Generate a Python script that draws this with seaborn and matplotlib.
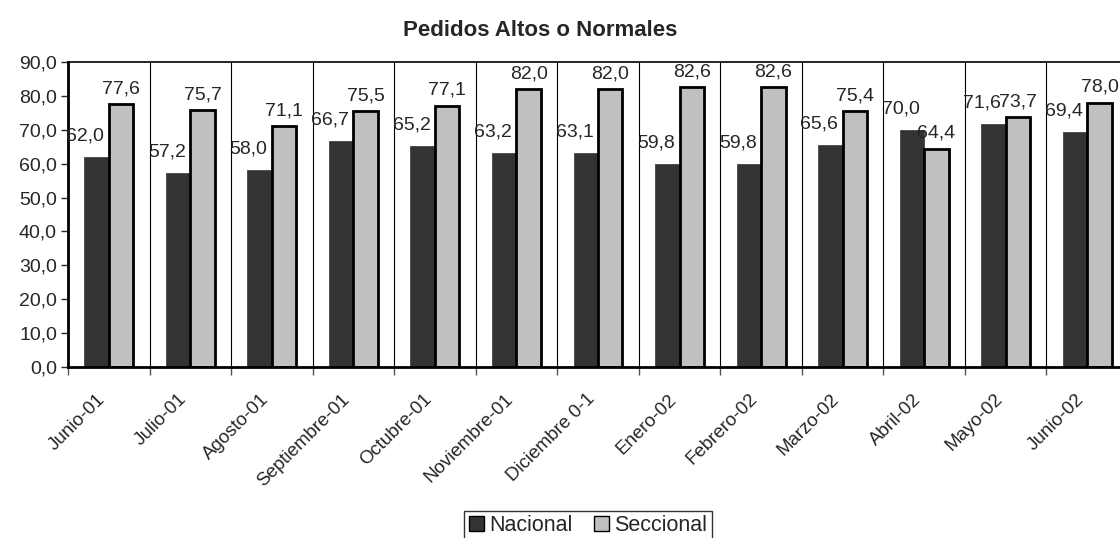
import pandas as pd
import matplotlib.pyplot as plt
import matplotlib.ticker as mticker
import matplotlib.transforms as mtrans
import seaborn as sns

# datos
meses = ['Junio-01', 'Julio-01', 'Agosto-01', 'Septiembre-01', 'Octubre-01', 'Noviembre-01',
         'Diciembre 0-1', 'Enero-02', 'Febrero-02', 'Marzo-02', 'Abril-02', 'Mayo-02', 'Junio-02']
nacional = [62.0, 57.2, 58.0, 66.7, 65.2, 63.2, 63.1, 59.8, 59.8, 65.6, 70.0, 71.6, 69.4]
seccional = [77.6, 75.7, 71.1, 75.5, 77.1, 82.0, 82.0, 82.6, 82.6, 75.4, 64.4, 73.7, 78.0]

df = pd.DataFrame({
    'mes': meses * 2,
    'valor': nacional + seccional,
    'serie': ['Nacional'] * len(meses) + ['Seccional'] * len(meses),
})

sns.set_style('white')
plt.rcParams['font.family'] = ['Liberation Sans', 'DejaVu Sans']

fig = plt.figure(figsize=(11.2, 5.38), dpi=100)
ax = fig.add_axes([68 / 1120, 1 - 367 / 538, 1060 / 1120, 305 / 538])

sns.barplot(data=df, x='mes', y='valor', hue='serie', order=meses,
            palette={'Nacional': '#333333', 'Seccional': '#c0c0c0'},
            width=0.6, ax=ax, legend=True)

# bordes de barras
for cont, lab in zip(ax.containers, ['Nacional', 'Seccional']):
    for p in cont:
        if lab == 'Seccional':
            p.set_edgecolor('black')
            p.set_linewidth(2)
        else:
            p.set_edgecolor('#333333')
            p.set_linewidth(0.5)

# etiquetas de valores
for cont, vals, off in zip(ax.containers, [nacional, seccional], [(-8, 9), (0, 5)]):
    for p, v in zip(cont, vals):
        ax.annotate(f'{v:.1f}'.replace('.', ','),
                    (p.get_x() + p.get_width() / 2, p.get_height()),
                    xytext=off, textcoords='offset points',
                    ha='center', va='bottom', fontsize=14)

ax.set_ylim(0, 90)
ax.set_xlim(-0.5, len(meses) - 0.5)
ax.yaxis.set_major_locator(mticker.MultipleLocator(10))
ax.yaxis.set_major_formatter(mticker.FuncFormatter(lambda y, _: f'{y:.1f}'.replace('.', ',')))
ax.tick_params(axis='y', labelsize=14, left=True, length=5, width=1, direction='out', pad=3)

# lineas verticales entre categorias
for k in range(1, len(meses)):
    ax.axvline(k - 0.5, color='black', lw=0.8, zorder=0)
ax.set_xticks([k - 0.5 for k in range(len(meses) + 1)], minor=True)
ax.tick_params(axis='x', which='minor', bottom=True, length=6, width=1, color='#555555')
ax.tick_params(axis='x', which='major', bottom=False, length=0, labelsize=13.5, pad=17)
ax.set_xticks(range(len(meses)))
ax.set_xticklabels(meses, rotation=45, ha='right', rotation_mode='anchor')
shift = mtrans.ScaledTranslation(-12 / 100, 0, fig.dpi_scale_trans)
for lbl in ax.get_xticklabels():
    lbl.set_transform(lbl.get_transform() + shift)

for s in ['left', 'bottom']:
    ax.spines[s].set_linewidth(2)
ax.spines['top'].set_linewidth(1.2)
ax.spines['right'].set_linewidth(1.2)
for s in ax.spines.values():
    s.set_color('black')

ax.set_xlabel('')
ax.set_ylabel('')

leg = ax.legend(loc='upper center', bbox_to_anchor=(588 / 1120, 1 - 511 / 538), bbox_transform=fig.transFigure,
                ncol=2, frameon=True, fontsize=15.5, handlelength=0.7, handleheight=0.7,
                handletextpad=0.25, columnspacing=1.0, borderpad=0.2, borderaxespad=0,
                fancybox=False)
leg.get_frame().set_edgecolor('black')
leg.get_frame().set_linewidth(1)
for h in leg.legend_handles:
    h.set_edgecolor('black')
    h.set_linewidth(1)

fig.text(540 / 1120, 1 - 31 / 538, 'Pedidos Altos o Normales', ha='center', va='center',
         fontsize=16, fontweight='bold')

fig.savefig('out.png', dpi=100)
